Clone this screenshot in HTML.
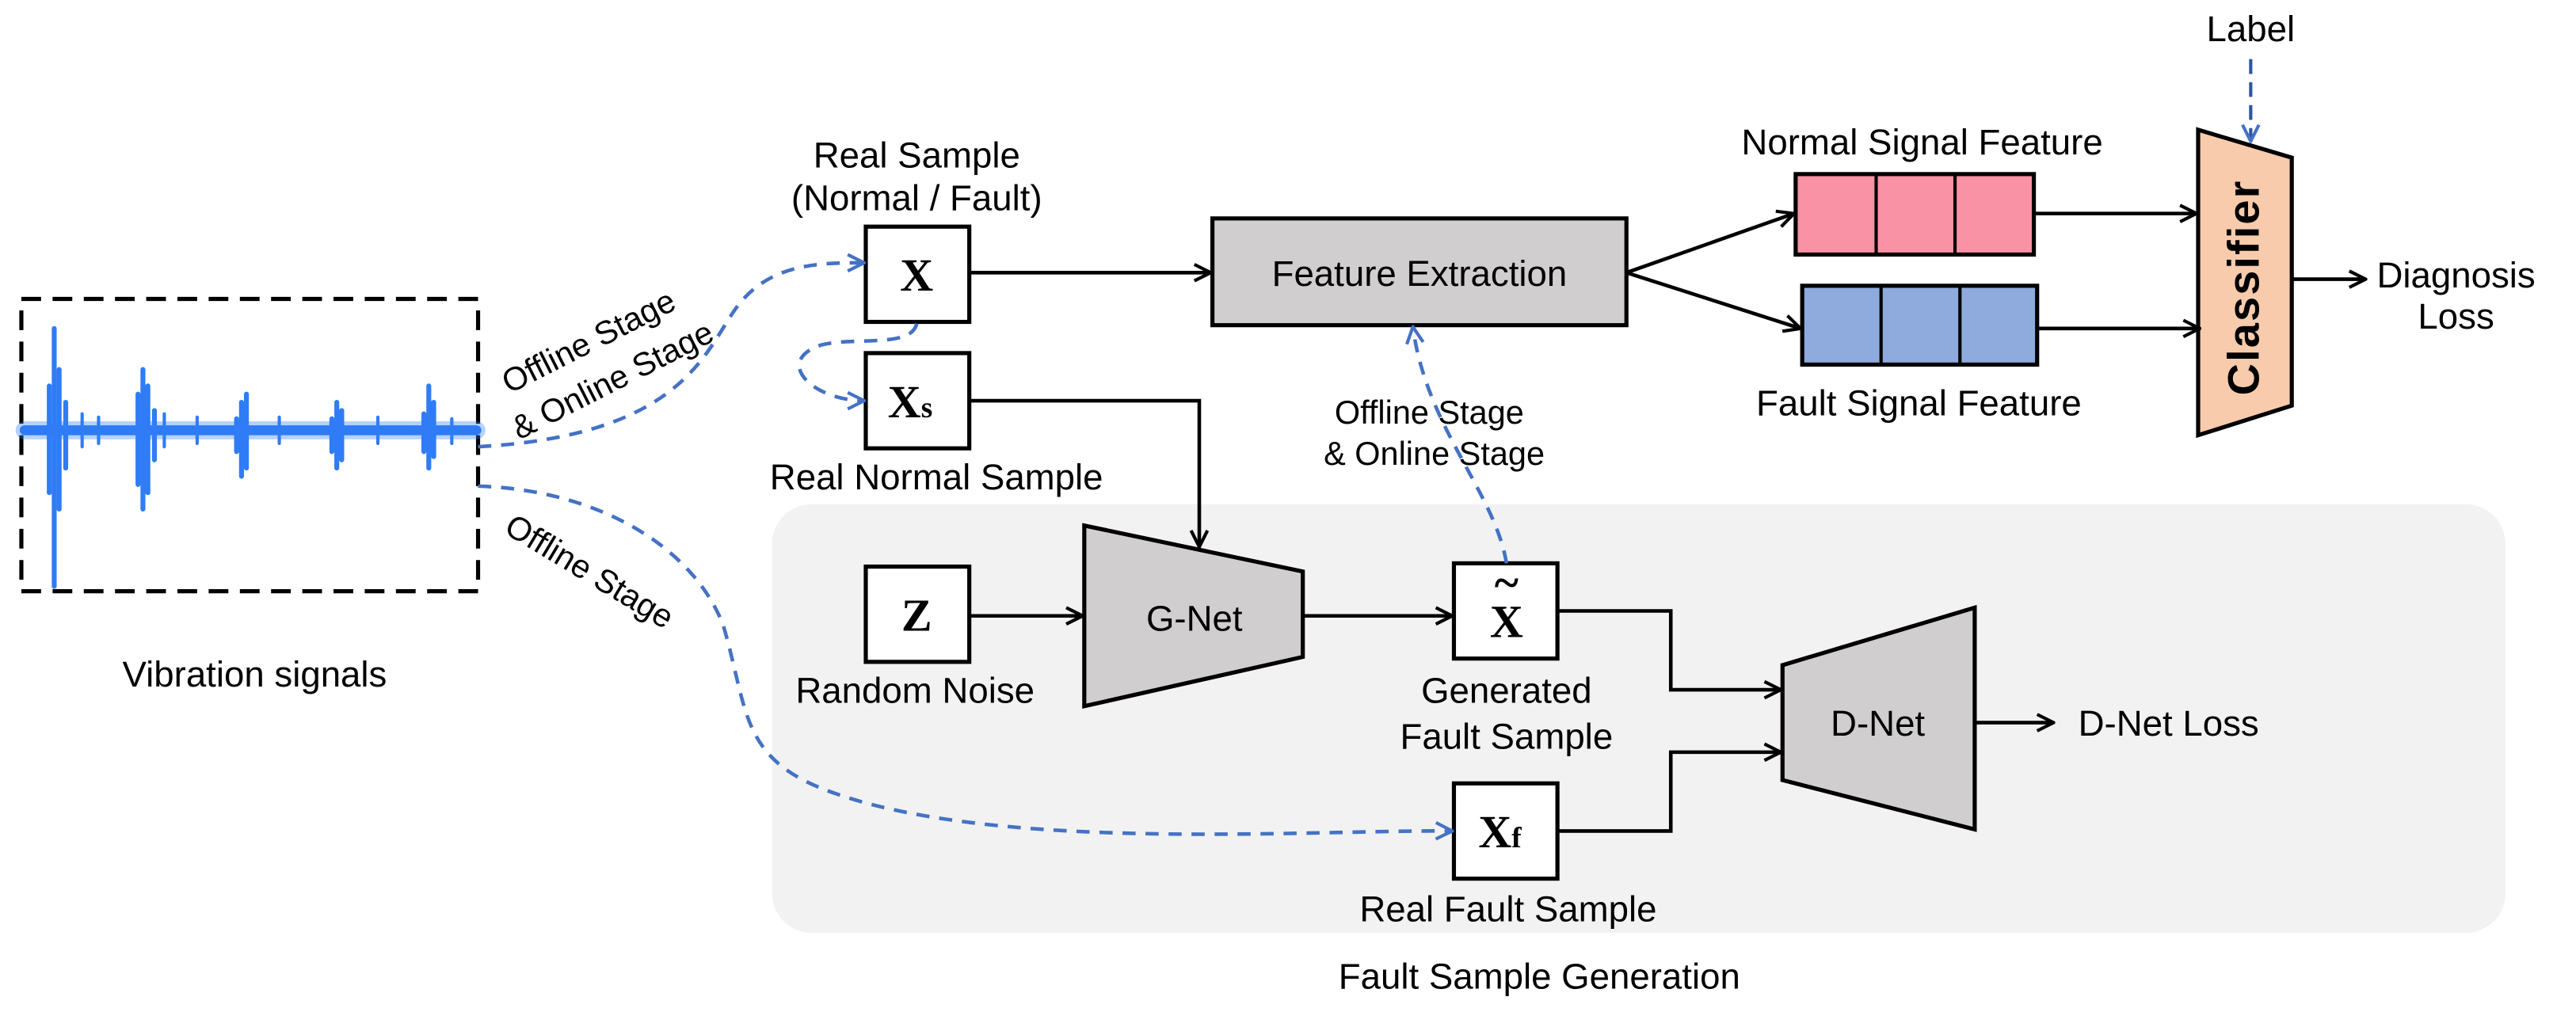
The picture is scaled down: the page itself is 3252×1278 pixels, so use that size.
<!DOCTYPE html>
<html><head><meta charset="utf-8"><style>
html,body{margin:0;padding:0;background:#fff}
svg{display:block}
text{font-family:"Liberation Sans",sans-serif;fill:#000}
.s{font-size:22px}
.r{font-size:20px}
.b{font-family:"Liberation Serif",serif;font-weight:bold;font-size:28px}
</style></head><body>
<svg width="3252" height="1278" viewBox="0 0 1568 616.2" xmlns="http://www.w3.org/2000/svg">
<defs>
<marker id="a" viewBox="0 0 12 12" refX="11" refY="6" markerWidth="12" markerHeight="12" markerUnits="userSpaceOnUse" orient="auto"><path d="M1,1 L11,6 L1,11" fill="none" stroke="#000" stroke-width="2"/></marker>
<marker id="ab" viewBox="0 0 12 12" refX="11" refY="6" markerWidth="12" markerHeight="12" markerUnits="userSpaceOnUse" orient="auto"><path d="M1,1 L11,6 L1,11" fill="none" stroke="#4472c4" stroke-width="2"/></marker>
</defs>
<rect x="470" y="307" width="1055" height="261" rx="24" fill="#f2f2f2"/>
<text x="937" y="602" class="s" text-anchor="middle">Fault Sample Generation</text>

<rect x="13" y="182" width="278" height="178" fill="none" stroke="#000" stroke-width="2.5" stroke-dasharray="12,7"/>
<g stroke="#2f7cf6" fill="none" stroke-linecap="round">
<path d="M15,262 L290,262" stroke-width="6"/>
<path d="M15,262 L290,262" stroke-width="11" stroke-opacity="0.35"/>
<path d="M33,200 L33,357" stroke-width="3"/>
<path d="M30,235 L30,300 M36,225 L36,310 M40,245 L40,285" stroke-width="3"/>
<path d="M87,225 L87,310 M84,240 L84,295 M90,235 L90,300 M94,250 L94,280" stroke-width="3"/>
<path d="M147,245 L147,290 M150,240 L150,285 M144,255 L144,275" stroke-width="3"/>
<path d="M205,245 L205,285 M208,250 L208,280 M202,255 L202,275" stroke-width="3"/>
<path d="M261,235 L261,285 M264,245 L264,278 M258,252 L258,275" stroke-width="3"/>
<path d="M50,252 L50,272 M60,254 L60,270 M100,252 L100,272 M120,254 L120,270 M170,254 L170,270 M230,254 L230,270 M275,255 L275,270" stroke-width="2"/>
</g>
<text x="155" y="418" class="s" text-anchor="middle">Vibration signals</text>

<g fill="#fff" stroke="#000" stroke-width="2.5">
<rect x="527" y="138" width="63" height="58"/>
<rect x="527" y="215" width="63" height="58"/>
<rect x="527" y="345" width="63" height="58"/>
<rect x="885" y="343" width="63" height="58"/>
<rect x="885" y="477" width="63" height="58"/>
</g>
<text x="558" y="177" class="b" text-anchor="middle">X</text>
<text x="554" y="254" class="b" text-anchor="middle">X<tspan font-size="18">s</tspan></text>
<text x="558" y="384" class="b" text-anchor="middle">Z</text>
<text x="917" y="388" class="b" text-anchor="middle">X</text>
<text x="917" y="364" class="b" font-size="18" text-anchor="middle">~</text>
<text x="913" y="516" class="b" text-anchor="middle">X<tspan font-size="18">f</tspan></text>

<text x="558" y="102" class="s" text-anchor="middle">Real Sample</text>
<text x="558" y="128" class="s" text-anchor="middle">(Normal / Fault)</text>
<text x="570" y="298" class="s" text-anchor="middle">Real Normal Sample</text>
<text x="557" y="428" class="s" text-anchor="middle">Random Noise</text>
<text x="917" y="428" class="s" text-anchor="middle">Generated</text>
<text x="917" y="456" class="s" text-anchor="middle">Fault Sample</text>
<text x="918" y="561" class="s" text-anchor="middle">Real Fault Sample</text>

<rect x="738" y="133" width="252" height="65" fill="#d0cece" stroke="#000" stroke-width="2.5"/>
<text x="864" y="174" class="s" text-anchor="middle">Feature Extraction</text>

<rect x="1093" y="106" width="145" height="49" fill="#f992a4" stroke="#000" stroke-width="2.5"/>
<path d="M1142,106 V155 M1190,106 V155" stroke="#000" stroke-width="2"/>
<rect x="1097" y="174" width="143" height="48" fill="#8faadc" stroke="#000" stroke-width="2.5"/>
<path d="M1145,174 V222 M1193,174 V222" stroke="#000" stroke-width="2"/>
<text x="1170" y="94" class="s" text-anchor="middle">Normal Signal Feature</text>
<text x="1168" y="253" class="s" text-anchor="middle">Fault Signal Feature</text>

<polygon points="1338,79 1395,96 1395,247 1338,265" fill="#f8cbad" stroke="#000" stroke-width="2.5"/>
<text transform="translate(1375,175) rotate(-90)" font-size="27" font-weight="bold" letter-spacing="1" text-anchor="middle">Classifier</text>
<text x="1370" y="25" class="s" text-anchor="middle">Label</text>
<path d="M1370,36 L1370,86" stroke="#2f55a4" stroke-width="2" stroke-dasharray="9,5" fill="none" marker-end="url(#ab)"/>
<text x="1495" y="175" class="s" text-anchor="middle">Diagnosis</text>
<text x="1495" y="200" class="s" text-anchor="middle">Loss</text>

<polygon points="660,320 793,348 793,400 660,430" fill="#d0cece" stroke="#000" stroke-width="2.5"/>
<text x="727" y="384" class="s" text-anchor="middle">G-Net</text>
<polygon points="1085,405 1202,370 1202,505 1085,475" fill="#d0cece" stroke="#000" stroke-width="2.5"/>
<text x="1143" y="448" class="s" text-anchor="middle">D-Net</text>
<text x="1320" y="448" class="s" text-anchor="middle">D-Net Loss</text>

<g stroke="#000" stroke-width="2.2" fill="none" marker-end="url(#a)">
<path d="M590,166 H737"/>
<path d="M990,166 L1092,130"/>
<path d="M990,166 L1096,200"/>
<path d="M1238,130 H1337"/>
<path d="M1240,200 H1339"/>
<path d="M1395,170 H1440"/>
<path d="M590,244 H730 V333"/>
<path d="M590,375 H659"/>
<path d="M793,375 H884"/>
<path d="M948,372 H1017 V420 H1084"/>
<path d="M948,506 H1017 V458 H1084"/>
<path d="M1202,440 H1250"/>
</g>

<g stroke="#4472c4" stroke-width="2.2" fill="none" stroke-dasharray="8,6" marker-end="url(#ab)">
<path d="M291,272 C420,265 430,210 450,185 C470,160 500,160 526,160"/>
<path d="M558,197 C555,212 520,205 500,210 C470,220 495,244 526,244"/>
<path d="M291,296 C360,298 420,330 440,380 C455,430 450,460 500,480 C600,520 800,505 884,506"/>
<path d="M917,343 C910,300 868,260 860,199"/>
</g>
<text transform="translate(310,240) rotate(-27)" class="r">Offline Stage</text>
<text transform="translate(316,268) rotate(-27)" class="r">&amp; Online Stage</text>
<text transform="translate(306,324) rotate(31)" class="r">Offline Stage</text>
<text x="870" y="258" class="r" text-anchor="middle">Offline Stage</text>
<text x="873" y="283" class="r" text-anchor="middle">&amp; Online Stage</text>
</svg>
</body></html>
